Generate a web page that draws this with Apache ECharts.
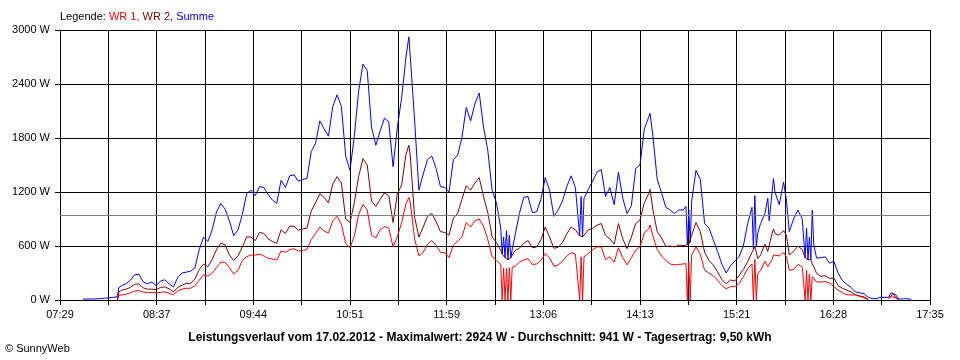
<!DOCTYPE html>
<html><head><meta charset="utf-8">
<script src="https://cdn.jsdelivr.net/npm/echarts@6/dist/echarts.min.js"></script>
<style>html,body{margin:0;padding:0;background:#fff;}#c{width:960px;height:360px;}</style>
</head><body><div id="c"></div>
<script>
const times = [
'07:45','07:48','07:51','07:54','07:57','08:00','08:03','08:06','08:09','08:10',
'08:12','08:15','08:18','08:21','08:24','08:27','08:30','08:33','08:36','08:39',
'08:42','08:45','08:48','08:51','08:54','08:57','09:00','09:03','09:06','09:09',
'09:12','09:15','09:18','09:21','09:24','09:27','09:30','09:33','09:36','09:39',
'09:42','09:45','09:48','09:51','09:54','09:57','10:00','10:03','10:06','10:09',
'10:12','10:15','10:18','10:21','10:24','10:27','10:30','10:33','10:36','10:39',
'10:42','10:45','10:48','10:51','10:54','10:57','11:00','11:03','11:06','11:09',
'11:12','11:15','11:18','11:21','11:24','11:27','11:30','11:32','11:33','11:36',
'11:39','11:42','11:45','11:48','11:51','11:54','11:57','12:00','12:03','12:06',
'12:09','12:12','12:15','12:18','12:21','12:24','12:27','12:30','12:33','12:36',
'12:37','12:38','12:39','12:40','12:41','12:42','12:43','12:44','12:46','12:49',
'12:52','12:55','12:58','13:01','13:04','13:07','13:10','13:13','13:16','13:19',
'13:22','13:25','13:28','13:31','13:32','13:33','13:34','13:37','13:40','13:43',
'13:46','13:49','13:52','13:55','13:58','14:01','14:04','14:07','14:10','14:13',
'14:16','14:19','14:20','14:22','14:25','14:28','14:31','14:34','14:37','14:40',
'14:43','14:45','14:46','14:47','14:48','14:49','14:52','14:55','14:58','15:01',
'15:04','15:07','15:10','15:13','15:16','15:19','15:22','15:25','15:28','15:31',
'15:32','15:33','15:34','15:35','15:37','15:40','15:42','15:43','15:45','15:46','15:47',
'15:50','15:53','15:55','15:57','16:00','16:03','16:06','16:08','16:09','16:10',
'16:11','16:12','16:13','16:14','16:16','16:19','16:22','16:25','16:28','16:31',
'16:34','16:37','16:40','16:43','16:46','16:49','16:52','16:55','16:58','17:00',
'17:03','17:06','17:08','17:09','17:11','17:13','17:15','17:18','17:21','17:22'
];
const summe = [
10,10,10,12,15,20,25,30,35,140,
160,180,220,280,285,200,180,200,160,210,
225,180,145,250,300,310,320,360,560,700,
650,780,980,1070,1010,880,715,780,950,1180,
1220,1160,1260,1250,1170,1110,1075,1330,1250,1380,
1390,1320,1340,1350,1650,1740,1990,1900,1820,2150,
2280,2150,1600,1440,1820,2320,2620,2550,1920,1720,
1880,2020,1980,1480,1920,2250,2700,2924,2700,2000,
1220,1400,1560,1600,1460,1260,1250,1200,1560,1610,
1810,2140,1990,2180,2300,1920,1660,1220,1080,800,
510,700,470,770,445,720,470,560,720,960,
1140,1150,970,980,1120,1360,1220,930,1000,1100,
1260,1380,1250,715,1150,700,1130,1230,1320,1420,
1450,1150,1250,1060,1420,1130,960,1050,1460,1500,
1900,2030,2074,1820,1340,1190,1030,1000,960,1000,
1000,1040,615,1000,640,1100,1440,1340,850,800,
670,540,400,300,380,430,480,600,850,1030,
560,1160,590,740,850,960,1130,880,1200,1350,1200,
1060,1310,1110,760,900,1000,900,470,800,445,
700,450,1000,620,465,470,480,410,430,300,
215,175,140,90,80,70,30,15,15,30,
30,30,80,93,60,15,10,15,10,8
];
const wr2 = [
null,null,null,null,null,null,null,null,0,90,
110,120,140,175,178,135,120,120,115,140,
145,125,90,140,165,185,185,235,340,400,
370,450,560,630,615,500,440,490,590,700,
700,660,750,740,680,650,630,780,740,820,
820,775,790,800,990,1080,1180,1140,1080,1290,
1370,1300,900,860,1080,1370,1570,1500,1100,1040,
1120,1190,1160,860,1180,1280,1620,1720,1600,920,
700,810,930,960,870,760,750,720,910,965,
1120,1270,1220,1300,1360,1150,970,700,640,550,
510,490,470,450,445,450,470,500,550,575,
630,660,580,590,670,810,700,575,585,640,
735,810,780,715,700,700,700,780,795,830,
850,720,680,620,850,680,570,700,850,890,
1080,1180,1230,1000,760,690,595,600,590,610,
605,610,615,620,640,720,860,760,530,440,
390,315,230,180,222,210,270,340,425,530,
560,600,590,460,500,620,540,560,740,790,740,
720,770,720,500,540,600,560,470,450,445,
445,450,400,370,296,262,270,240,245,160,
130,110,90,60,45,35,8,null,null,null,
null,20,44,74,30,5,null,null,null,null
];
const wr1 = [
null,null,null,null,null,null,null,null,0,55,
55,65,80,100,105,88,82,85,80,85,
90,75,58,100,120,130,130,160,220,280,
265,300,360,420,420,360,290,330,440,480,
500,500,510,490,465,455,445,545,530,560,
570,545,550,560,670,740,810,765,745,880,
930,840,630,580,710,950,1060,1000,720,690,
780,815,800,590,705,860,1070,1140,1080,680,
490,530,620,660,610,530,525,470,610,655,
700,860,810,880,900,820,670,480,440,395,
0,355,0,355,0,360,0,365,375,420,
445,460,395,400,440,515,470,375,390,430,
490,525,510,0,480,0,480,515,555,590,
590,450,480,420,580,470,390,470,555,590,
745,790,833,710,560,490,440,400,390,395,
400,405,0,420,0,500,590,510,330,300,
270,222,160,125,148,150,180,260,350,400,
0,450,0,290,330,430,370,380,450,500,490,
490,530,480,330,340,395,370,0,330,0,
290,0,260,255,200,200,205,190,150,110,
80,60,56,55,40,25,0,null,null,null,
null,15,37,56,25,5,null,null,null,null
];
const xTickLabels = ['07:29','08:37','09:44','10:51','11:59','13:06','14:13','15:21','16:28','17:35'];
const average = 941;
const titleText = 'Leistungsverlauf vom 17.02.2012 - Maximalwert: 2924 W - Durchschnitt: 941 W - Tagesertrag: 9,50 kWh';
const footerText = '\u00a9 SunnyWeb';

const START = 7 * 60 + 29;
const END = 17 * 60 + 35;
const span = (END - START) * 60;
const step = span / 18;
function toSec(s) { const p = s.split(':').map(Number); return (p[0] * 60 + p[1] - START) * 60; }
function pairs(vals) { return times.map((t, i) => [toSec(t), vals[i]]); }

const FONT = '"Liberation Sans", Arial, sans-serif';
const chart = echarts.init(document.getElementById('c'), null, { renderer: 'canvas' });
chart.setOption({
  animation: false,
  backgroundColor: '#fff',
  grid: { left: 60, right: 30, top: 30, bottom: 60, containLabel: false },
  title: {
    text: '{k|Legende: }{a|WR 1, }{b|WR 2, }{c|Summe}',
    left: 60, top: 11, padding: 0,
    textStyle: {
      fontSize: 11, fontFamily: FONT, fontWeight: 'normal',
      rich: {
        k: { color: '#000', fontSize: 11, fontFamily: FONT },
        a: { color: '#ff0000', fontSize: 11, fontFamily: FONT },
        b: { color: '#800000', fontSize: 11, fontFamily: FONT },
        c: { color: '#0000ff', fontSize: 11, fontFamily: FONT }
      }
    }
  },
  xAxis: {
    type: 'value', min: 0, max: span, interval: step,
    axisLine: { lineStyle: { color: '#000', width: 1 } },
    axisTick: { show: true, length: 5, lineStyle: { color: '#000' } },
    splitLine: { show: true, lineStyle: { color: '#000', width: 1 } },
    axisLabel: {
      color: '#000', fontSize: 11, fontFamily: FONT, margin: 9,
      showMinLabel: true, showMaxLabel: true,
      formatter: function (v) { const k = Math.round(v / step); return k % 2 === 0 ? xTickLabels[k / 2] : ''; }
    }
  },
  yAxis: {
    type: 'value', min: 0, max: 3000, interval: 600,
    axisLine: { show: true, lineStyle: { color: '#000', width: 1 } },
    axisTick: { show: true, length: 5, lineStyle: { color: '#000' } },
    splitLine: { show: true, lineStyle: { color: '#000', width: 1 } },
    axisLabel: { color: '#000', fontSize: 11, fontFamily: FONT, margin: 10, formatter: function (v) { return String(v) + ' W'; } }
  },
  graphic: [
    { type: 'text', left: 'center', top: 332, style: { text: titleText, font: 'bold 12px ' + FONT, fill: '#000' } },
    { type: 'text', left: 5, top: 343, style: { text: footerText, font: '11px ' + FONT, fill: '#000' } }
  ],
  series: [
    { name: 'Summe', type: 'line', data: pairs(summe), showSymbol: false, symbol: 'none', smooth: false,
      lineStyle: { color: '#0000ff', width: 1 }, connectNulls: false, z: 3,
      markLine: { silent: true, symbol: 'none', label: { show: false },
        lineStyle: { color: '#808080', type: 'solid', width: 1 }, data: [{ yAxis: average }] } },
    { name: 'WR 2', type: 'line', data: pairs(wr2), showSymbol: false, symbol: 'none', smooth: false,
      lineStyle: { color: '#800000', width: 1 }, connectNulls: false, z: 4 },
    { name: 'WR 1', type: 'line', data: pairs(wr1), showSymbol: false, symbol: 'none', smooth: false,
      lineStyle: { color: '#ff0000', width: 1 }, connectNulls: false, z: 5 }
  ]
});
</script>
</body></html>
